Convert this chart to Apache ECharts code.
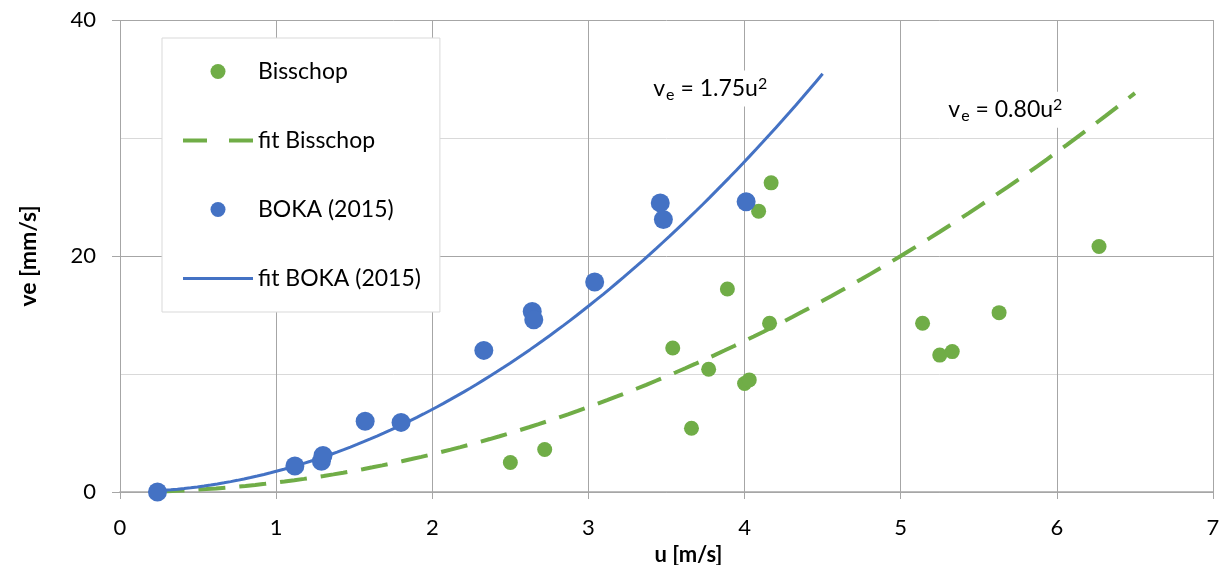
<!DOCTYPE html>
<html><head><meta charset="utf-8">
<script src="https://cdn.jsdelivr.net/npm/echarts@6/dist/echarts.min.js"></script>
<style>html,body{margin:0;padding:0;background:#fff}#c{width:1226px;height:565px}</style>
</head><body><div id="c"></div>
<script>
// ---- data ----
const bisschopU = [2.50, 2.72, 3.54, 3.66, 3.77, 3.89, 4.00, 4.03, 4.09, 4.17, 4.16, 5.14, 5.25, 5.33, 5.63, 6.27];
const bisschopV = [2.5, 3.6, 12.2, 5.4, 10.4, 17.2, 9.2, 9.5, 23.8, 26.2, 14.3, 14.3, 11.6, 11.9, 15.2, 20.8];
const bokaU = [0.24, 1.12, 1.29, 1.30, 1.57, 1.80, 2.33, 2.64, 2.65, 3.04, 3.46, 3.48, 4.01];
const bokaV = [0.0, 2.2, 2.6, 3.1, 6.0, 5.9, 12.0, 15.3, 14.6, 17.8, 24.5, 23.1, 24.6];
// trendlines as stated on the chart: ve = a * u^2
const fitBisschopCoef = 0.80;
const fitBisschopRange = [0.24, 6.5];
const fitBokaCoef = 1.75;
const fitBokaRange = [0.24, 4.5];
const xTicks = [0, 1, 2, 3, 4, 5, 6, 7];
const yTicks = [0, 20, 40];
const seriesNames = ['Bisschop', 'fit Bisschop', 'BOKA (2015)', 'fit BOKA (2015)'];
const fitLabels = ['1.75', '0.80'];

function pairs(us, vs) { return us.map((u, i) => [u, vs[i]]); }
function fitCurve(a, range) {
  const out = [];
  const n = 100;
  for (let i = 0; i <= n; i++) {
    const u = range[0] + (range[1] - range[0]) * i / n;
    out.push([u, a * u * u]);
  }
  return out;
}

const FONT = 'Lato';
const GREEN = '#70ad47', BLUE = '#4472c4';
const annRich = {
  a: { fontFamily: FONT, fontSize: 23, color: '#000' },
  s: { fontFamily: FONT, fontSize: 16, color: '#000', padding: [12, 0, 0, 1] },
  p: { fontFamily: FONT, fontSize: 16, color: '#000', padding: [0, 0, 10, 0] }
};
function annText(c) { return '{a|v}{s|e}{a| = ' + c + 'u}{p|2}'; }

const chart = echarts.init(document.getElementById('c'), null, { renderer: 'canvas' });
chart.setOption({
  animation: false,
  backgroundColor: '#fff',
  grid: { left: 120, right: 13, top: 20, bottom: 73, containLabel: false, outerBoundsMode: 'none' },
  xAxis: {
    type: 'value', min: xTicks[0], max: xTicks[xTicks.length - 1], interval: 1,
    axisLine: { show: true, lineStyle: { color: '#a6a6a6', width: 1.5 } },
    axisTick: { show: true, length: 7, lineStyle: { color: '#a6a6a6' } },
    splitLine: { show: true, lineStyle: { color: '#a6a6a6', width: 1 } },
    axisLabel: { fontFamily: FONT, fontSize: 22, color: '#000', margin: 25 },
    name: 'u [m/s]', nameLocation: 'middle', nameGap: 46,
    nameTextStyle: { fontFamily: FONT, fontSize: 22, fontWeight: 'bold', color: '#000', padding: [0, 0, 0, 44] }
  },
  yAxis: {
    type: 'value', min: yTicks[0], max: yTicks[yTicks.length - 1], interval: 20,
    axisLine: { show: false },
    axisTick: { show: true, length: 8, lineStyle: { color: '#a6a6a6' } },
    splitLine: { show: true, lineStyle: { color: '#a6a6a6', width: 1 } },
    minorTick: { show: false, splitNumber: 2 },
    minorSplitLine: { show: true, lineStyle: { color: '#d9d9d9', width: 1 } },
    axisLabel: { fontFamily: FONT, fontSize: 22, color: '#000', margin: 24 },
    name: 've [mm/s]', nameLocation: 'middle', nameGap: 80, nameRotate: 90,
    nameTextStyle: { fontFamily: FONT, fontSize: 23, fontWeight: 'bold', color: '#000' }
  },
  legend: {
    orient: 'vertical', left: 162, top: 38,
    padding: [22, 19, 22, 19], itemGap: 46, itemWidth: 70, itemHeight: 15,
    backgroundColor: '#fff', borderColor: '#d9d9d9', borderWidth: 1,
    textStyle: { fontFamily: FONT, fontSize: 23, color: '#000', width: 167, padding: [0, 0, 0, 0] },
    data: [
      { name: seriesNames[0] },
      { name: seriesNames[1], itemStyle: { color: 'rgba(0,0,0,0)', borderWidth: 0, opacity: 0 }, lineStyle: { type: [24, 22], width: 4 } },
      { name: seriesNames[2] },
      { name: seriesNames[3], itemStyle: { color: 'rgba(0,0,0,0)', borderWidth: 0, opacity: 0 }, lineStyle: { width: 3 } }
    ]
  },
  series: [
    {
      name: seriesNames[1], type: 'line', data: fitCurve(fitBisschopCoef, fitBisschopRange),
      showSymbol: false, symbol: 'none', z: 2,
      lineStyle: { color: GREEN, width: 4, type: [27, 14] }, itemStyle: { color: GREEN },
      markPoint: {
        symbol: 'circle', symbolSize: 1, silent: true, itemStyle: { color: 'rgba(0,0,0,0)' },
        label: { show: true, position: 'inside', formatter: annText(fitLabels[1]), rich: annRich,
          backgroundColor: '#fff', padding: [4, 5] },
        data: [{ coord: [5.67, 32.4] }]
      }
    },
    {
      name: seriesNames[3], type: 'line', data: fitCurve(fitBokaCoef, fitBokaRange),
      showSymbol: false, symbol: 'none', z: 2,
      lineStyle: { color: BLUE, width: 3 }, itemStyle: { color: BLUE },
      markPoint: {
        symbol: 'circle', symbolSize: 1, silent: true, itemStyle: { color: 'rgba(0,0,0,0)' },
        label: { show: true, position: 'inside', formatter: annText(fitLabels[0]), rich: annRich,
          backgroundColor: '#fff', padding: [4, 5] },
        data: [{ coord: [3.78, 34.2] }]
      }
    },
    {
      name: seriesNames[0], type: 'scatter', data: pairs(bisschopU, bisschopV),
      symbol: 'circle', symbolSize: 15, itemStyle: { color: GREEN, opacity: 1 }, z: 3
    },
    {
      name: seriesNames[2], type: 'scatter', data: pairs(bokaU, bokaV),
      symbol: 'circle', symbolSize: 19, itemStyle: { color: BLUE, opacity: 1 }, z: 3
    }
  ]
});
</script>
</body></html>
